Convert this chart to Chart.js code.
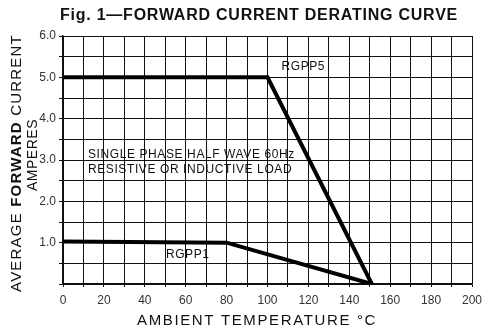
<!DOCTYPE html>
<html>
<head>
<meta charset="utf-8">
<script src="https://cdn.jsdelivr.net/npm/chart.js@4/dist/chart.umd.min.js"></script>
<style>
  html, body { margin: 0; padding: 0; background: #fff; }
  canvas { display: block; }
</style>
</head>
<body>
<canvas id="derating" width="490" height="327"></canvas>
<script>
// curve data
var rgpp5Temp = [0, 100, 151];
var rgpp5Amps = [5.0, 5.0, 0];
var rgpp1Temp = [0, 80, 151];
var rgpp1Amps = [1.03, 1.0, 0];

var xLabelEvery = 20;   // labelled temperatures: 0, 20 ... 200
var yLabelEvery = 1;    // labelled currents: 1.0 ... 6.0

var titleText = 'Fig. 1\u2014FORWARD CURRENT DERATING CURVE';
var xTitleText = 'AMBIENT TEMPERATURE \u00B0C';

function pts(xs, ys) {
    return xs.map(function(x, i) { return { x: x, y: ys[i] }; });
}

// text that is not handled by the axes: title, axis titles, curve notes
var notes = {
    id: 'notes',
    afterDraw: function(chart) {
        var ctx = chart.ctx;
        var xs = chart.scales.x, ys = chart.scales.y;
        ctx.save();
        ctx.fillStyle = '#111';
        ctx.textBaseline = 'middle';

        // title
        ctx.font = 'bold 16px "Liberation Sans", Arial, sans-serif';
        ctx.textAlign = 'left';
        ctx.letterSpacing = '0px';
        var w = ctx.measureText(titleText).width;
        var sp = (398 - w) / titleText.length;
        ctx.letterSpacing = sp + 'px';
        ctx.fillText(titleText, 60, 16);

        // x axis title
        ctx.font = '15px "Liberation Sans", Arial, sans-serif';
        ctx.letterSpacing = '0px';
        w = ctx.measureText(xTitleText).width;
        sp = (240 - w) / xTitleText.length;
        ctx.letterSpacing = sp + 'px';
        ctx.fillText(xTitleText, 137, 321);

        // y axis title, rotated, with FORWARD in bold
        ctx.save();
        ctx.translate(17, 163);
        ctx.rotate(-Math.PI / 2);
        var parts = [
            ['AVERAGE ', '15px'],
            ['FORWARD', 'bold 15px'],
            [' CURRENT', '15px']
        ];
        ctx.letterSpacing = '1.2px';
        var total = 0;
        parts.forEach(function(p) {
            ctx.font = p[1] + ' "Liberation Sans", Arial, sans-serif';
            total += ctx.measureText(p[0]).width;
        });
        var cx = -total / 2;
        parts.forEach(function(p) {
            ctx.font = p[1] + ' "Liberation Sans", Arial, sans-serif';
            ctx.fillText(p[0], cx, 0);
            cx += ctx.measureText(p[0]).width;
        });
        ctx.font = '14px "Liberation Sans", Arial, sans-serif';
        ctx.letterSpacing = '0.5px';
        ctx.textAlign = 'center';
        ctx.fillText('AMPERES', 8, 16);
        ctx.restore();

        // notes on the grid
        ctx.letterSpacing = '0.6px';
        ctx.font = '12px "Liberation Sans", Arial, sans-serif';
        ctx.textAlign = 'center';
        ctx.fillText('RGPP5', xs.getPixelForValue(117.5), ys.getPixelForValue(5.25));
        ctx.fillText('RGPP1', xs.getPixelForValue(61), ys.getPixelForValue(0.7));
        ctx.textAlign = 'left';
        ctx.fillText('SINGLE PHASE HALF WAVE 60Hz', xs.getPixelForValue(12.2), ys.getPixelForValue(3.12));
        ctx.fillText('RESISTIVE OR INDUCTIVE LOAD', xs.getPixelForValue(12.2), ys.getPixelForValue(2.76));
        ctx.restore();
    }
};

new Chart(document.getElementById('derating').getContext('2d'), {
    type: 'line',
    data: {
        datasets: [{
            label: 'RGPP5',
            data: pts(rgpp5Temp, rgpp5Amps),
            borderColor: '#000',
            borderWidth: 4,
            pointRadius: 0,
            tension: 0
        }, {
            label: 'RGPP1',
            data: pts(rgpp1Temp, rgpp1Amps),
            borderColor: '#000',
            borderWidth: 4,
            pointRadius: 0,
            tension: 0
        }]
    },
    options: {
        responsive: false,
        animation: false,
        devicePixelRatio: 1,
        layout: { padding: { top: 36, right: 18, left: 0, bottom: 0 } },
        plugins: {
            legend: { display: false },
            tooltip: { enabled: false }
        },
        scales: {
            x: {
                type: 'linear',
                min: 0,
                max: 200,
                afterFit: function(s) { s.height = 43; },
                border: { color: '#111', width: 1.5 },
                grid: { color: '#111', lineWidth: 1, tickLength: 3 },
                ticks: {
                    stepSize: 10,
                    maxRotation: 0,
                    autoSkip: false,
                    padding: 6,
                    color: '#333',
                    font: { family: '"Liberation Sans", Arial, sans-serif', size: 12 },
                    callback: function(v) { return v % xLabelEvery === 0 ? String(v) : ''; }
                }
            },
            y: {
                min: 0,
                max: 6,
                afterFit: function(s) { s.width = 63; },
                border: { color: '#111', width: 1.5 },
                grid: { color: '#111', lineWidth: 1, tickLength: 4 },
                ticks: {
                    stepSize: 0.5,
                    autoSkip: false,
                    padding: 3,
                    color: '#333',
                    font: { family: '"Liberation Sans", Arial, sans-serif', size: 12 },
                    callback: function(v) {
                        return (v > 0 && v % yLabelEvery === 0) ? v.toFixed(1) : '';
                    }
                }
            }
        }
    },
    plugins: [notes]
});
</script>
</body>
</html>
